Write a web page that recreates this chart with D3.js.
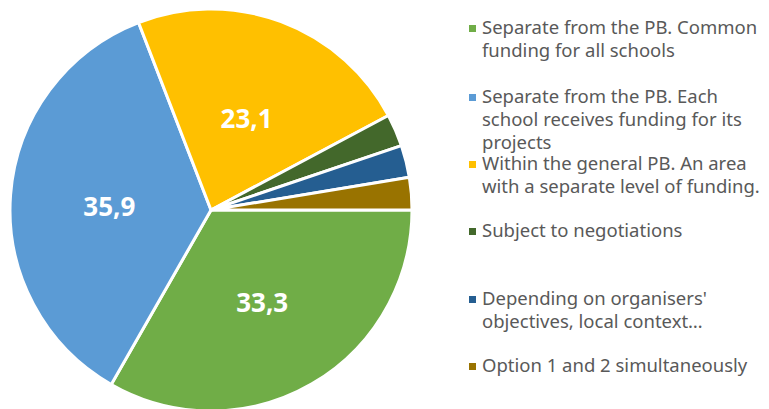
<!DOCTYPE html>
<html><head><meta charset="utf-8">
<script src="https://cdn.jsdelivr.net/npm/d3@7"></script>
<style>body{margin:0;background:#fff}svg{display:block}</style>
</head><body>
<script>
const categories = [
  ["Separate from the PB. Common", "funding for all schools"],
  ["Separate from the PB. Each", "school receives funding for its", "projects"],
  ["Within the general PB. An area", "with a separate level of funding."],
  ["Subject to negotiations"],
  ["Depending on organisers'", "objectives, local context…"],
  ["Option 1 and 2 simultaneously"]
];
const values = [33.3, 35.9, 23.1, 2.6, 2.6, 2.6];
const valueLabels = ["33,3", "35,9", "23,1", "", "", ""];
const colors = ["#70AD47", "#5B9BD5", "#FFC000", "#43682B", "#255E91", "#997300"];
const legendTop = [28, 97, 164, 231, 299, 366];

const W = 769, H = 409;
const svg = d3.select("body").append("svg").attr("width", W).attr("height", H);
const cx = 211, cy = 210, R = 201;

const pie = d3.pie().sort(null).value(d => d)
  .startAngle(Math.PI / 2).endAngle(Math.PI / 2 + 2 * Math.PI);
const arcs = pie(values);
const arc = d3.arc().innerRadius(0).outerRadius(R);
const labelArc = d3.arc().innerRadius(102).outerRadius(102);

const g = svg.append("g").attr("transform", `translate(${cx},${cy})`);
g.selectAll("path").data(arcs).join("path")
  .attr("d", arc).attr("fill", (d, i) => colors[i])
  .attr("stroke", "#fff").attr("stroke-width", 3).attr("stroke-linejoin", "miter");

g.selectAll("text.v").data(arcs).join("text").attr("class", "v")
  .attr("transform", d => `translate(${labelArc.centroid(d)})`)
  .attr("text-anchor", "middle").attr("dy", "0.54em")
  .attr("font-family", "'Noto Sans', sans-serif").attr("font-weight", "bold")
  .attr("font-size", 26).attr("fill", "#fff")
  .text((d, i) => valueLabels[i]);

const lg = svg.append("g");
categories.forEach((lines, i) => {
  lg.append("rect").attr("x", 469).attr("y", legendTop[i] - 3).attr("width", 7).attr("height", 7)
    .attr("fill", colors[i]);
  const t = lg.append("text").attr("x", 482).attr("y", legendTop[i])
    .attr("font-family", "'Noto Sans', sans-serif").attr("font-size", 18.5).attr("fill", "#595959");
  lines.forEach((l, j) => {
    t.append("tspan").attr("x", 482).attr("dy", j === 0 ? "0.35em" : 23).text(l);
  });
});
</script>
</body></html>
